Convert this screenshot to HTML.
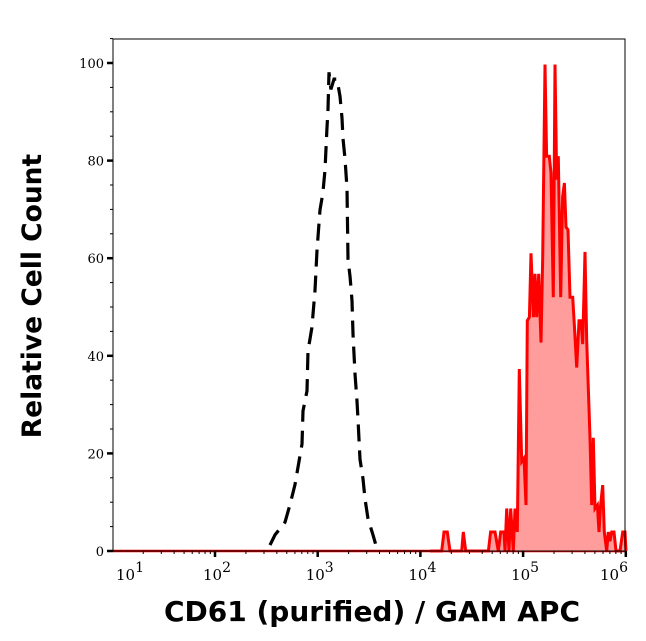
<!DOCTYPE html>
<html><head><meta charset="utf-8"><style>
html,body{margin:0;padding:0;background:#fff}
svg{display:block}
</style></head><body>
<svg id="chart" width="646" height="641" xmlns="http://www.w3.org/2000/svg">
<rect x="0" y="0" width="646" height="641" fill="#fff"/>
<g id="plot"></g>
<text x="0" y="0" transform="translate(41,296) rotate(-90)" text-anchor="middle" font-family="'DejaVu Sans','Liberation Sans',sans-serif" font-weight="bold" font-size="26.5">Relative Cell Count</text>
<text x="372" y="621" text-anchor="middle" font-family="'DejaVu Sans','Liberation Sans',sans-serif" font-weight="bold" font-size="28">CD61 (purified) / GAM APC</text>
</svg>
<script>
// Data
const yTicks = [0, 20, 40, 60, 80, 100];
const xDecades = [1, 2, 3, 4, 5, 6];
const ctrlLog = [2.536,2.584,2.682,2.730,2.779,2.847,2.857,2.896,2.906,2.944,2.974,2.993,3.022,3.051,3.071,3.090,3.100,3.110,3.129,3.159,3.188,3.217,3.237,3.246,3.266,3.285,3.295,3.315,3.334,3.344,3.363,3.383,3.393,3.412,3.441,3.461,3.490,3.538,3.577];
const ctrlCount = [1.2,3.3,5.9,9.5,13.6,21.9,28.7,32.8,41.0,45.8,53.4,61.6,69.9,73.4,78.1,86.4,90.5,98.1,94.6,96.7,96.7,93.2,88.7,84.5,80.4,74.3,59.8,56.1,51.3,44.5,36.3,30.7,26.6,18.8,14.8,10.7,6.6,3.3,0.4];
const cd61Log = [4.094,4.207,4.230,4.262,4.288,4.402,4.418,4.441,4.662,4.684,4.726,4.759,4.782,4.814,4.824,4.840,4.863,4.879,4.905,4.921,4.944,4.963,4.986,5.009,5.028,5.041,5.061,5.077,5.100,5.116,5.132,5.152,5.174,5.191,5.213,5.229,5.255,5.272,5.294,5.311,5.327,5.343,5.366,5.385,5.402,5.418,5.437,5.457,5.483,5.499,5.522,5.544,5.564,5.580,5.603,5.619,5.651,5.668,5.684,5.700,5.723,5.739,5.755,5.775,5.791,5.814,5.830,5.846,5.863,5.885,5.905,5.944,5.970,5.992,6.002];
const cd61Count = [0,0,3.9,3.9,0,0,3.9,0,0,3.9,3.9,0,3.9,3.9,0,8.7,0,8.7,0,8.7,3.9,37.3,18.3,19.0,9.4,47.2,47.9,61.0,47.9,56.8,47.9,56.8,42.7,60.3,99.7,80.9,80.9,77.5,52.0,99.7,76.1,80.9,52.0,72.6,75.4,66.4,65.8,52.0,52.0,46.5,37.6,47.2,47.2,42.4,61.3,43.1,23.2,9.4,23.2,8.7,9.4,3.9,9.4,13.5,3.9,0,3.9,2.0,3.9,3.9,0,0,3.9,3.9,0];

const NS = 'http://www.w3.org/2000/svg';
const L = 113, R = 625, T = 39, B = 551;
const y0 = 551, yPer = (551 - 63) / 100;
function xs(lg) { return 215 + (lg - 2) * 102.7; }
function ys(v) { return y0 - v * yPer; }
const g = document.getElementById('plot');
function mk(tag, attrs) { const e = document.createElementNS(NS, tag); for (const k in attrs) e.setAttribute(k, attrs[k]); g.appendChild(e); return e; }

let e;
e = mk('line', {x1: L, y1: ys(0), x2: R, y2: ys(0), stroke: '#e00', 'stroke-width': 2.5});



let pts = cd61Log.map((l, i) => xs(l).toFixed(1) + ',' + ys(cd61Count[i]).toFixed(1));
e = mk('polygon', {points: xs(cd61Log[0]) + ',' + ys(0) + ' ' + pts.join(' ') + ' ' + xs(cd61Log[cd61Log.length - 1]) + ',' + ys(0), fill: '#ff9c9c', stroke: 'none'});


e = mk('polyline', {points: pts.join(' '), fill: 'none', stroke: '#ff0000', 'stroke-width': 3, 'stroke-linejoin': 'miter'});



let cp = ctrlLog.map((l, i) => xs(l).toFixed(1) + ',' + ys(ctrlCount[i]).toFixed(1));
e = mk('polyline', {points: cp.join(' '), fill: 'none', stroke: '#000', 'stroke-width': 3.2, 'stroke-dasharray': '17 9'});



e = mk('rect', {x: L, y: T, width: R - L, height: B - T, fill: 'none', stroke: '#000', 'stroke-width': 1});



for (let v = 0; v <= 105; v += 5) {
  const major = v % 20 === 0;
  e = mk('line', {x1: major ? L - 6 : L - 3, y1: ys(v), x2: L, y2: ys(v), stroke: '#000', 'stroke-width': major ? 2.5 : 1});
  
  
}
yTicks.forEach(v => {
  e = mk('text', {x: L - 9, y: ys(v) + 5, 'text-anchor': 'end', 'font-family': "'DejaVu Serif','Liberation Serif',serif", 'font-size': 13});
  e.textContent = v;
  
  
});

xDecades.forEach(d => {
  if (d > 1) {
    e = mk('line', {x1: xs(d), y1: B, x2: xs(d), y2: B + 6, stroke: '#000', 'stroke-width': 2.5});
    
    
  }
  if (d < 6) {
    for (let m = 2; m <= 9; m++) {
      const lx = xs(d + Math.log10(m));
      e = mk('line', {x1: lx, y1: B, x2: lx, y2: B + 3, stroke: '#000', 'stroke-width': 1});
      
      
    }
  }
  let cx = Math.min(Math.max(xs(d) + 2, 130), 614);
  const t = mk('text', {x: cx, y: 580, 'text-anchor': 'middle', 'font-family': "'DejaVu Serif','Liberation Serif',serif", 'font-size': 15});
  
  
  t.appendChild(document.createTextNode('10'));
  const s = document.createElementNS(NS, 'tspan');
  s.setAttribute('dy', '-8');
  s.setAttribute('font-size', '14');
  s.textContent = d;
  t.appendChild(s);
});
</script>
</body></html>
